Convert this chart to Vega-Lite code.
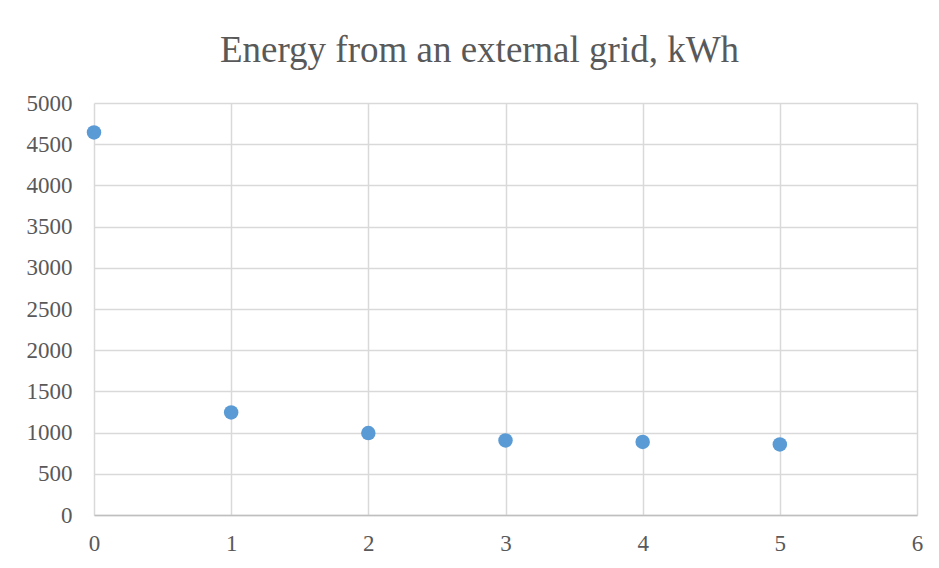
{
  "$schema": "https://vega.github.io/schema/vega-lite/v6.json",
  "autosize": {"type": "none"},
  "width": 823,
  "height": 412,
  "padding": {"left": 94, "top": 103, "right": 22, "bottom": 53},
  "background": "white",
  "title": {
    "text": "Energy from an external grid, kWh",
    "font": "Liberation Serif",
    "fontSize": 37,
    "fontWeight": "normal",
    "color": "#595959",
    "anchor": "middle",
    "baseline": "alphabetic",
    "offset": 42,
    "dy": 49,
    "dx": -26
  },
  "data": {
    "values": [
      {"x": 0, "energy": 4643},
      {"x": 1, "energy": 1245},
      {"x": 2, "energy": 995},
      {"x": 3, "energy": 905},
      {"x": 4, "energy": 886},
      {"x": 5, "energy": 857}
    ]
  },
  "mark": {"type": "point", "filled": true, "shape": "circle", "size": 210, "color": "#5b9bd5", "opacity": 1},
  "encoding": {
    "x": {
      "field": "x",
      "type": "quantitative",
      "scale": {"domain": [0, 6], "nice": false, "zero": false},
      "axis": {
        "title": null,
        "values": [0, 1, 2, 3, 4, 5, 6],
        "format": "d",
        "ticks": false,
        "domain": true,
        "domainColor": "#bfbfbf",
        "domainWidth": 1.5,
        "grid": true,
        "gridColor": "#d9d9d9",
        "gridWidth": 1.5,
        "labelFont": "Liberation Serif",
        "labelFontSize": 23,
        "labelColor": "#595959",
        "labelPadding": 17,
        "labelOverlap": false,
        "labelFlush": false
      }
    },
    "y": {
      "field": "energy",
      "type": "quantitative",
      "scale": {"domain": [0, 5000], "nice": false},
      "axis": {
        "title": null,
        "values": [0, 500, 1000, 1500, 2000, 2500, 3000, 3500, 4000, 4500, 5000],
        "format": "d",
        "ticks": false,
        "domain": false,
        "grid": true,
        "gridColor": "#d9d9d9",
        "gridWidth": 1.5,
        "labelFont": "Liberation Serif",
        "labelFontSize": 23,
        "labelColor": "#595959",
        "labelPadding": 22,
        "labelOverlap": false
      }
    }
  },
  "config": {
    "view": {"stroke": null}
  }
}
